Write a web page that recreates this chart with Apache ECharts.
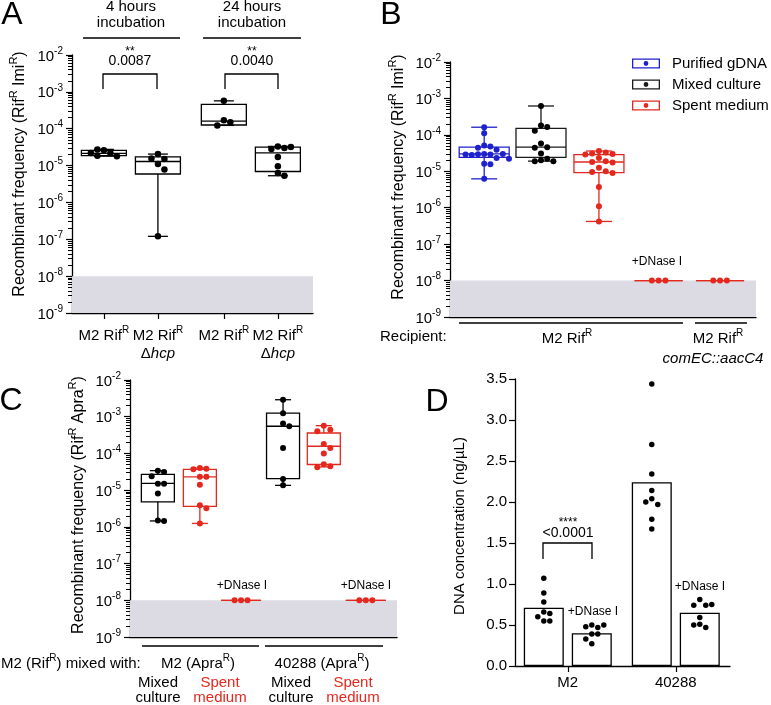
<!DOCTYPE html>
<html>
<head>
<meta charset="utf-8">
<title>Recombinant frequency</title>
<script src="https://cdn.jsdelivr.net/npm/echarts@6.0.0/dist/echarts.min.js"></script>
<style>
  html, body { margin: 0; padding: 0; background: #fff; }
  #chart { width: 771px; height: 705px; }
</style>
</head>
<body>
<div id="chart"></div>
<script>
var chart = echarts.init(document.getElementById('chart'));

var FONT = 'Liberation Sans';
var BLUE = '#1f22cc', RED = '#e4281e', INK = '#000', BAND = '#dcdbe3';

// ---- A: 4 h / 24 h incubation (min, q1, median, q3, max) + points
var aLabels = ['{t|M2 Rif}{s|R}', '{t|M2 Rif}{s|R}\n{t|Δ}{i|hcp}', '{t|M2 Rif}{s|R}', '{t|M2 Rif}{s|R}\n{t|Δ}{i|hcp}'];
var aBoxes = [
  [1.8e-5, 1.87e-5, 2.15e-5, 2.6e-5, 2.75e-5],
  [1.2e-7, 5.9e-6, 1.29e-5, 1.72e-5, 2.05e-5],
  [1.23e-4, 1.26e-4, 1.6e-4, 4.6e-4, 5.7e-4],
  [5.3e-6, 6.9e-6, 2.2e-5, 3.16e-5, 3.3e-5]
];
var aPoints = [
  [2.6e-5, 2.2e-5, 1.85e-5, 1.8e-5, 2.2e-5, 2.75e-5],
  [2.05e-5, 1.5e-5, 1.55e-5, 1.1e-5, 7.8e-6, 1.2e-7],
  [5.7e-4, 1.7e-4, 1.5e-4, 1.23e-4],
  [3.3e-5, 3.0e-5, 2.8e-5, 3.2e-5, 1.7e-5, 9.6e-6, 6.3e-6, 5.3e-6]
];

// ---- B: donor DNA source
var bGdna = [1.62e-4, 1.1e-4, 5.1e-5, 4.8e-5, 4.4e-5, 3.9e-5, 3.0e-5, 2.9e-5, 2.95e-5, 2.8e-5, 3.0e-5, 2.9e-5, 2.3e-5, 2.2e-5, 1.6e-5, 1.55e-5, 6.2e-6];
var bGdnaBox = [6.2e-6, 2.4e-5, 3.0e-5, 4.6e-5, 1.62e-4];
var bMixed = [6.2e-4, 1.8e-4, 1.65e-4, 1.3e-4, 5.8e-5, 4.6e-5, 4.4e-5, 3.1e-5, 2.2e-5, 2.0e-5, 1.9e-5, 1.9e-5];
var bMixedBox = [1.9e-5, 2.4e-5, 4.6e-5, 1.5e-4, 6.2e-4];
var bSpent = [3.6e-5, 3.3e-5, 3.1e-5, 3.0e-5, 2.9e-5, 2.3e-5, 1.9e-5, 1.8e-5, 1.75e-5, 1.25e-5, 1.0e-5, 9.5e-6, 9.0e-6, 3.7e-6, 1.1e-6, 4.2e-7];
var bSpentBox = [4.2e-7, 9.2e-6, 1.8e-5, 2.85e-5, 3.6e-5];
var bDnase = [1e-8, 1e-8, 1e-8];
var bComEC = [1e-8, 1e-8, 1e-8];
var bFloorBox = [1e-8, 1e-8, 1e-8, 1e-8, 1e-8];

// ---- C: M2 (RifR) mixed with M2 / 40288 (ApraR)
var cM2Mixed = [3.4e-5, 3.1e-5, 2.4e-5, 1.5e-5, 1.5e-5, 8.1e-6, 1.5e-6, 1.45e-6];
var cM2MixedBox = [1.45e-6, 4.8e-6, 1.53e-5, 2.7e-5, 3.4e-5];
var cM2Spent = [4.0e-5, 3.8e-5, 3.7e-5, 2.3e-5, 2.3e-5, 1.4e-5, 3.9e-6, 3.2e-6, 1.24e-6];
var cM2SpentBox = [1.24e-6, 3.6e-6, 2.3e-5, 3.66e-5, 4.0e-5];
var c40288Mixed = [2.9e-3, 1.25e-3, 6.5e-4, 5.5e-4, 1.4e-4, 2.0e-5, 1.35e-5];
var c40288MixedBox = [1.35e-5, 2.05e-5, 5.5e-4, 1.25e-3, 2.9e-3];
var c40288Spent = [5.7e-4, 4.4e-4, 4.0e-4, 1.8e-4, 1.4e-4, 1.0e-4, 5.1e-5, 4.5e-5, 4.2e-5];
var c40288SpentBox = [4.3e-5, 5.0e-5, 1.57e-4, 3.6e-4, 5.7e-4];
var cDnase = [1e-8, 1e-8, 1e-8];
var cFloorBox = [1e-8, 1e-8, 1e-8, 1e-8, 1e-8];

// ---- D: DNA concentration in spent medium
var dGroups = ['M2', '40288'];
var dMeans = [0.71, 0.40, 2.24, 0.65];
var dM2 = [1.07, 0.89, 0.78, 0.66, 0.64, 0.60, 0.55, 0.55];
var dM2Dnase = [0.50, 0.47, 0.48, 0.50, 0.39, 0.39, 0.33, 0.27];
var d40288 = [3.44, 2.70, 2.34, 2.14, 2.04, 1.97, 2.00, 1.79, 1.67];
var d40288Dnase = [0.81, 0.74, 0.74, 0.75, 0.59, 0.51, 0.47, 0.50];

// layout: group positions on each panel's x scale
var aPos = [0.59, 1.59, 2.81, 3.81], aMax = 4.46;
var bPos = [0.59, 1.57, 2.57, 3.6, 4.66], bMax = 5.28;
var cPos = [0.67, 1.68, 2.67, 3.68, 4.66, 5.67], cMax = 6.42;
var dPos = [0.6, 1.6, 2.85, 3.85], dTicks = [1.1, 3.35], dMax = 4.48;

// minor ticks of the log axes: 2..9 x 10^n
var logMinor = [];
for (var e = -9; e < -2; e++) for (var m = 2; m < 10; m++) logMinor.push(m * Math.pow(10, e));

function richSet(size, color) {
  return {
    t: { fontSize: size, fontFamily: FONT, lineHeight: size + 3, verticalAlign: 'bottom', color: color, fill: color },
    s: { fontSize: Math.round(size * 0.66), fontFamily: FONT, lineHeight: 8, verticalAlign: 'top', color: color, fill: color },
    i: { fontSize: size, fontFamily: FONT, fontStyle: 'italic', lineHeight: size + 3, verticalAlign: 'bottom', color: color, fill: color }
  };
}
var rich15 = richSet(15, INK);

// simple beeswarm: integer slot per point so dots don't overlap
function swarm(vals, tol) {
  var placed = [];
  return vals.map(function (v) {
    for (var n = 0; ; n++) {
      var k = n === 0 ? 0 : (n % 2 ? 1 : -1) * Math.ceil(n / 2);
      var hit = placed.some(function (p) { return p.k === k && Math.abs(p.v - v) < tol; });
      if (!hit) { placed.push({ v: v, k: k }); return k; }
    }
  });
}
function dotItems(pos, groups, tol, step, isLog) {
  var out = [];
  groups.forEach(function (vals, gi) {
    var offs = swarm(vals.map(function (v) { return isLog ? Math.log10(v) : v; }), tol);
    vals.forEach(function (v, k) {
      out.push({ value: [pos[gi], v], symbolOffset: [offs[k] * step, 0] });
    });
  });
  return out;
}
function boxRows(pos, boxes) {
  return boxes.map(function (b, i) { return [pos[i]].concat(b); });
}

function boxRenderer(boxW, capW) {
  return function (params, api) {
    var x = api.value(0);
    var p = [1, 2, 3, 4, 5].map(function (d) { return api.coord([x, api.value(d)]); });
    var cx = p[0][0], col = api.visual('color');
    var st = { stroke: col, lineWidth: 1.3, fill: 'none' };
    function seg(x1, y1, x2, y2) { return { type: 'line', shape: { x1: x1, y1: y1, x2: x2, y2: y2 }, style: st }; }
    return { type: 'group', children: [
      seg(cx, p[4][1], cx, p[3][1]),
      seg(cx, p[1][1], cx, p[0][1]),
      seg(cx - capW / 2, p[4][1], cx + capW / 2, p[4][1]),
      seg(cx - capW / 2, p[0][1], cx + capW / 2, p[0][1]),
      { type: 'rect', shape: { x: cx - boxW / 2, y: p[3][1], width: boxW, height: p[1][1] - p[3][1] }, style: st },
      seg(cx - boxW / 2, p[2][1], cx + boxW / 2, p[2][1])
    ] };
  };
}

// grey detection-limit band (below 10^-8)
function bandRenderer(params, api) {
  var a = api.coord([api.value(0), api.value(1)]), b = api.coord([api.value(2), api.value(3)]);
  return { type: 'rect', shape: { x: a[0], y: b[1], width: b[0] - a[0], height: a[1] - b[1] }, style: { fill: BAND } };
}

function boxSeries(gi, name, color, rows, boxW, capW) {
  return { type: 'custom', name: name, xAxisIndex: gi, yAxisIndex: gi, z: 3,
    itemStyle: { color: color }, renderItem: boxRenderer(boxW, capW),
    encode: { x: 0, y: [1, 2, 3, 4, 5] }, data: rows, silent: true };
}
function dotSeries(gi, name, color, items, size) {
  return { type: 'scatter', name: name, xAxisIndex: gi, yAxisIndex: gi, z: 4,
    symbol: 'circle', symbolSize: size, itemStyle: { color: color, opacity: 1 }, data: items, silent: true };
}
function bandSeries(gi, max) {
  return { type: 'custom', xAxisIndex: gi, yAxisIndex: gi, z: 1, silent: true,
    renderItem: bandRenderer, encode: { x: [0, 2], y: [1, 3] }, data: [[0, 1e-9, max, 1e-8]] };
}

var axisLine = { show: true, onZero: false, lineStyle: { color: INK, width: 1.3 } };

function logY(gi) {
  return { type: 'log', logBase: 10, gridIndex: gi, min: 1e-9, max: 1e-2, position: 'left',
    axisLine: axisLine, splitLine: { show: false },
    axisTick: { show: true, length: 6, lineStyle: { color: INK, width: 1.2 } },
    axisLabel: { margin: 9, rich: rich15,
      formatter: function (v) { return '{t|10}{s|' + Math.round(Math.log10(v)) + '}'; } } };
}
// overlay log axis on the same grid carrying only the short minor ticks
function minorY(gi) {
  return { type: 'log', logBase: 10, gridIndex: gi, min: 1e-9, max: 1e-2, position: 'left', offset: 0,
    axisLine: { show: false }, splitLine: { show: false }, axisLabel: { show: false },
    axisTick: { show: true, customValues: logMinor, length: 4, lineStyle: { color: INK, width: 1 } } };
}
function plainX(gi, max) {
  return { type: 'value', gridIndex: gi, min: 0, max: max, axisLine: axisLine,
    axisTick: { show: false }, axisLabel: { show: false }, splitLine: { show: false } };
}

function txt(x, y, text, size, extra) {
  var st = { text: text, fontFamily: FONT, fontSize: size || 15, fill: INK, align: 'center', verticalAlign: 'middle', rich: richSet(size || 15, INK) };
  var el = { type: 'text', x: x, y: y, silent: true, style: st };
  if (extra) Object.keys(extra).forEach(function (k) { if (k === 'style') Object.assign(st, extra.style); else el[k] = extra[k]; });
  return el;
}
function seg(x1, y1, x2, y2) {
  return { type: 'line', silent: true, shape: { x1: x1, y1: y1, x2: x2, y2: y2 }, style: { stroke: INK, lineWidth: 1.3 } };
}
function bracket(x1, x2, top, bottom) {
  return { type: 'polyline', silent: true, shape: { points: [[x1, bottom], [x1, top], [x2, top], [x2, bottom]] },
    style: { stroke: INK, lineWidth: 1.3, fill: 'none' } };
}
var vert = { rotation: Math.PI / 2 };
var redText = { style: { fill: RED, rich: richSet(15, RED) } };

var legendIcon = 'path://M0,0H28V10H0Z M1.3,1.3V8.7H26.7V1.3Z M11.6,5A2.4,2.4,0,1,0,16.4,5A2.4,2.4,0,1,0,11.6,5Z';

var option = {
  animation: false,
  textStyle: { fontFamily: FONT, color: INK },
  grid: [
    { left: 72, top: 55, width: 241, height: 258, containLabel: false, outerBoundsMode: 'none' },
    { left: 450, top: 62, width: 306, height: 255, containLabel: false, outerBoundsMode: 'none' },
    { left: 130, top: 380, width: 267, height: 257, containLabel: false, outerBoundsMode: 'none' },
    { left: 515, top: 379, width: 215, height: 287, containLabel: false, outerBoundsMode: 'none' }
  ],
  xAxis: [
    { type: 'value', gridIndex: 0, min: 0, max: aMax, axisLine: axisLine, splitLine: { show: false },
      axisTick: { show: true, customValues: aPos, length: 6, lineStyle: { color: INK, width: 1.2 } },
      axisLabel: { customValues: aPos, margin: 12, rich: rich15,
        formatter: function (v, i) { var k = aPos.indexOf(v); return aLabels[k < 0 ? i : k]; } } },
    plainX(1, bMax),
    plainX(2, cMax),
    { type: 'value', gridIndex: 3, min: 0, max: dMax, axisLine: axisLine, splitLine: { show: false },
      axisTick: { show: true, customValues: dTicks, length: 6, lineStyle: { color: INK, width: 1.2 } },
      axisLabel: { customValues: dTicks, margin: 9, fontSize: 15, color: INK,
        formatter: function (v, i) { var k = dTicks.indexOf(v); return dGroups[k < 0 ? i : k]; } } }
  ],
  yAxis: [
    logY(0), logY(1), logY(2),
    { type: 'value', gridIndex: 3, min: 0, max: 3.5, interval: 0.5, axisLine: axisLine, splitLine: { show: false },
      axisTick: { show: true, length: 6, lineStyle: { color: INK, width: 1.2 } },
      axisLabel: { margin: 8, fontSize: 15, color: INK, formatter: function (v) { return v.toFixed(1); } } },
    minorY(0), minorY(1), minorY(2)
  ],
  legend: {
    left: 627, top: 51, orient: 'vertical', itemGap: 6, itemWidth: 28, itemHeight: 10,
    icon: legendIcon, selectedMode: false,
    textStyle: { fontSize: 15, color: INK, padding: [0, 0, 0, 7] },
    data: ['Purified gDNA', 'Mixed culture', 'Spent medium']
  },
  series: [
    // A
    bandSeries(0, aMax),
    boxSeries(0, 'A', INK, boxRows(aPos, aBoxes), 45, 20),
    dotSeries(0, 'A', INK, dotItems(aPos, aPoints, 0.17, 6.5, true), 6.5),
    // B
    bandSeries(1, bMax),
    boxSeries(1, 'Purified gDNA', BLUE, boxRows([bPos[0]], [bGdnaBox]), 50, 26),
    boxSeries(1, 'Mixed culture', '#1a1a1a', boxRows([bPos[1]], [bMixedBox]), 50, 26),
    boxSeries(1, 'Spent medium', RED, boxRows([bPos[2]], [bSpentBox]), 50, 26),
    boxSeries(1, 'Spent medium', RED, boxRows([bPos[3], bPos[4]], [bFloorBox, bFloorBox]), 48, 0),
    dotSeries(1, 'Purified gDNA', BLUE, dotItems([bPos[0]], [bGdna], 0.16, 6.2, true), 6),
    dotSeries(1, 'Mixed culture', INK, dotItems([bPos[1]], [bMixed], 0.16, 6.2, true), 6),
    dotSeries(1, 'Spent medium', RED, dotItems([bPos[2], bPos[3], bPos[4]], [bSpent, bDnase, bComEC], 0.16, 6.8, true), 6),
    // C
    bandSeries(2, cMax),
    boxSeries(2, 'C mixed', INK, boxRows([cPos[0], cPos[3]], [cM2MixedBox, c40288MixedBox]), 33, 16),
    boxSeries(2, 'C spent', RED, boxRows([cPos[1], cPos[4]], [cM2SpentBox, c40288SpentBox]), 33, 16),
    boxSeries(2, 'C dnase', RED, boxRows([cPos[2], cPos[5]], [cFloorBox, cFloorBox]), 40, 0),
    dotSeries(2, 'C mixed', INK, dotItems([cPos[0], cPos[3]], [cM2Mixed, c40288Mixed], 0.16, 6.2, true), 6),
    dotSeries(2, 'C spent', RED, dotItems([cPos[1], cPos[4], cPos[2], cPos[5]], [cM2Spent, c40288Spent, cDnase, cDnase], 0.16, 6.5, true), 6),
    // D
    { type: 'bar', xAxisIndex: 3, yAxisIndex: 3, barWidth: 40, z: 2, silent: true,
      itemStyle: { color: '#fff', borderColor: INK, borderWidth: 1.3 },
      data: dMeans.map(function (v, i) { return [dPos[i], v]; }) },
    dotSeries(3, 'D', INK, dotItems(dPos, [dM2, dM2Dnase, d40288, d40288Dnase], 0.075, 6, false), 5.5)
  ],
  graphic: [
    // panel letters
    txt(12, 15, 'A', 32), txt(391, 15, 'B', 32), txt(11, 401, 'C', 32), txt(437, 402, 'D', 32),
    // A: headers + significance
    txt(131, 7, '4 hours', 15), txt(131, 23, 'incubation', 15), seg(83, 38, 180, 38),
    txt(252, 7, '24 hours', 15), txt(252, 23, 'incubation', 15), seg(203, 38, 301, 38),
    txt(130, 52, '**', 12), txt(130, 61, '0.0087', 14), bracket(103, 157, 74, 89),
    txt(252, 52, '**', 12), txt(252, 61, '0.0040', 14), bracket(225, 278, 74, 89),
    txt(18, 174, '{t|Recombinant frequency (Rif}{s|R}{t| Imi}{s|R}{t|)}', 16, vert),
    // B
    txt(397, 177, '{t|Recombinant frequency (Rif}{s|R}{t| Imi}{s|R}{t|)}', 16, vert),
    txt(657, 262, '+DNase I', 12),
    seg(459, 323, 683, 323), seg(695, 323, 747, 323),
    txt(380, 337, 'Recipient:', 15, { style: { align: 'left' } }),
    txt(567, 337, '{t|M2 Rif}{s|R}', 15), txt(718, 337, '{t|M2 Rif}{s|R}', 15),
    txt(713, 357, '{i|comEC::aacC4}', 15),
    // C
    txt(77, 505, '{t|Recombinant frequency (Rif}{s|R}{t| Apra}{s|R}{t|)}', 16, vert),
    txt(242, 586, '+DNase I', 12), txt(366, 586, '+DNase I', 12),
    seg(142, 646, 259, 646), seg(265, 646, 383, 646),
    txt(1, 662, '{t|M2 (Rif}{s|R}{t|) mixed with:}', 15, { style: { align: 'left' } }),
    txt(198, 662, '{t|M2 (Apra}{s|R}{t|)}', 15), txt(322, 662, '{t|40288 (Apra}{s|R}{t|)}', 15),
    txt(158, 683, 'Mixed', 15), txt(158, 698, 'culture', 15),
    txt(220, 683, 'Spent', 15, redText), txt(220, 698, 'medium', 15, redText),
    txt(291, 683, 'Mixed', 15), txt(291, 698, 'culture', 15),
    txt(353, 683, 'Spent', 15, redText), txt(353, 698, 'medium', 15, redText),
    // D
    txt(460, 526, 'DNA concentration (ng/µL)', 15, vert),
    txt(568, 523, '****', 12), txt(568, 533, '<0.0001', 14), bracket(543, 592, 543, 559),
    txt(593, 612, '+DNase I', 12), txt(700, 587, '+DNase I', 12)
  ]
};

chart.setOption(option);
</script>
</body>
</html>
